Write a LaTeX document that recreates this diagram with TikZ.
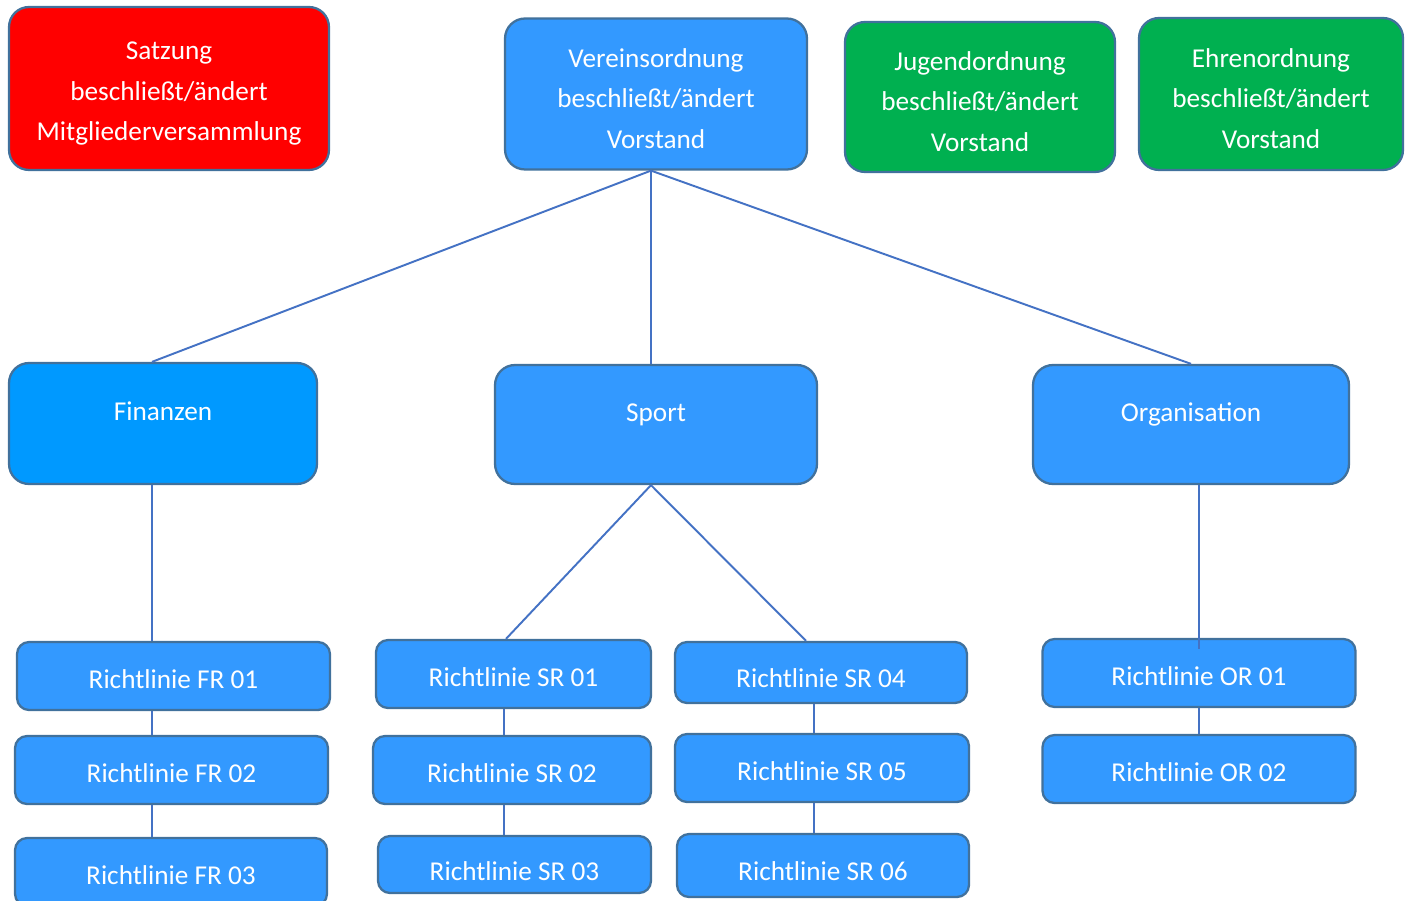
\documentclass[tikz,border=0pt]{standalone}
\usepackage{fontspec}
\setmainfont{Carlito}
\definecolor{colRosso}{HTML}{FF0000}
\definecolor{colBlu}{HTML}{3399FF}
\definecolor{colAzzurro}{HTML}{0099FF}
\definecolor{colVerde}{HTML}{00B050}
\definecolor{colBordo}{HTML}{41719C}
\definecolor{colLinea}{HTML}{4472C4}
\newcommand{\rigasu}{\rule{0pt}{0.56cm}}

\begin{document}
\begin{tikzpicture}[x=0.02cm, y=-0.02cm,
		box/.style={draw=colBordo, line width=1.3pt, text=white, align=center,
			inner sep=0pt, font=\fontsize{15.5}{23}\selectfont},
		grande/.style={box, rounded corners=0.4cm},
		regola/.style={box, fill=colBlu, rounded corners=0.24cm, minimum height=1.36cm,
			text height=0.5cm, text depth=0cm},
		settore/.style={grande, fill=colBlu, minimum height=2.38cm,
			text height=0.35cm, text depth=0.45cm},
		linea/.style={draw=colLinea, line width=1.1pt}]
		\useasboundingbox (0,0) rectangle (1408,901);

		% ordinamenti
		\node[grande, fill=colRosso, minimum width=6.4cm, minimum height=3.26cm] (satzung) at (169,88.5)
			{\rigasu Satzung\\beschließt/ändert\\Mitgliederversammlung};
		\node[grande, fill=colBlu, minimum width=6.04cm, minimum height=3.02cm] (verein) at (656,94)
			{\rigasu Vereinsordnung\\beschließt/ändert\\Vorstand};
		\node[grande, fill=colVerde, minimum width=5.4cm, minimum height=3cm] (jugend) at (980,97)
			{\rigasu Jugendordnung\\beschließt/ändert\\Vorstand};
		\node[grande, fill=colVerde, minimum width=5.28cm, minimum height=3.04cm] (ehren) at (1271,94)
			{\rigasu Ehrenordnung\\beschließt/ändert\\Vorstand};

		% settori
		\node[settore, fill=colAzzurro, minimum width=6.16cm, minimum height=2.42cm] (finanzen) at (163,423.5) {Finanzen};
		\node[settore, minimum width=6.44cm] (sport) at (656,424.5) {Sport};
		\node[settore, minimum width=6.32cm] (orga) at (1191,424.5) {Organisation};

		% regolamenti
		\node[regola, minimum width=6.26cm] (fr1) at (173.5,676) {Richtlinie FR 01};
		\node[regola, minimum width=6.26cm] (fr2) at (171.5,770) {Richtlinie FR 02};
		\node[regola, minimum width=6.24cm] (fr3) at (171,872) {Richtlinie FR 03};
		\node[regola, minimum width=5.5cm] (sr1) at (513.5,674) {Richtlinie SR 01};
		\node[regola, minimum width=5.56cm] (sr2) at (512,770) {Richtlinie SR 02};
		\node[regola, minimum width=5.46cm, minimum height=1.14cm, text height=0.62cm] (sr3) at (514.5,864.5) {Richtlinie SR 03};
		\node[regola, minimum width=5.84cm, minimum height=1.22cm, text height=0.6cm] (sr4) at (821,672.5) {Richtlinie SR 04};
		\node[regola, minimum width=5.88cm] (sr5) at (822,768) {Richtlinie SR 05};
		\node[regola, minimum width=5.84cm, minimum height=1.26cm, text height=0.6cm] (sr6) at (823,865.5) {Richtlinie SR 06};
		\node[regola, minimum width=6.26cm] (or1) at (1199,673) {Richtlinie OR 01};
		\node[regola, minimum width=6.26cm] (or2) at (1199,769) {Richtlinie OR 02};

		% collegamenti
		\draw[linea] ([xshift=-0.1cm]verein.south) -- ([xshift=-0.22cm]finanzen.north);
		\draw[linea] ([xshift=-0.1cm]verein.south) -- ([xshift=-0.1cm]sport.north);
		\draw[linea] ([xshift=-0.1cm]verein.south) -- (orga.north);
		\draw[linea] ([xshift=-0.22cm]finanzen.south) -- ([xshift=-0.43cm]fr1.north);
		\draw[linea] ([xshift=-0.43cm]fr1.south) -- ([xshift=-0.39cm]fr2.north);
		\draw[linea] ([xshift=-0.39cm]fr2.south) -- ([xshift=-0.38cm]fr3.north);
		\draw[linea] ([xshift=-0.1cm]sport.south) -- ([xshift=-0.15cm]sr1.north);
		\draw[linea] ([xshift=-0.1cm]sport.south) -- ([xshift=-0.3cm]sr4.north);
		\draw[linea] ([xshift=-0.19cm]sr1.south) -- ([xshift=-0.16cm]sr2.north);
		\draw[linea] ([xshift=-0.16cm]sr2.south) -- ([xshift=-0.21cm]sr3.north);
		\draw[linea] ([xshift=-0.14cm]sr4.south) -- ([xshift=-0.16cm]sr5.north);
		\draw[linea] ([xshift=-0.16cm]sr5.south) -- ([xshift=-0.18cm]sr6.north);
		\draw[linea] ([xshift=0.16cm]orga.south) -- ([yshift=-0.22cm]or1.north);
		\draw[linea] (or1.south) -- (or2.north);
	\end{tikzpicture}
\end{document}
